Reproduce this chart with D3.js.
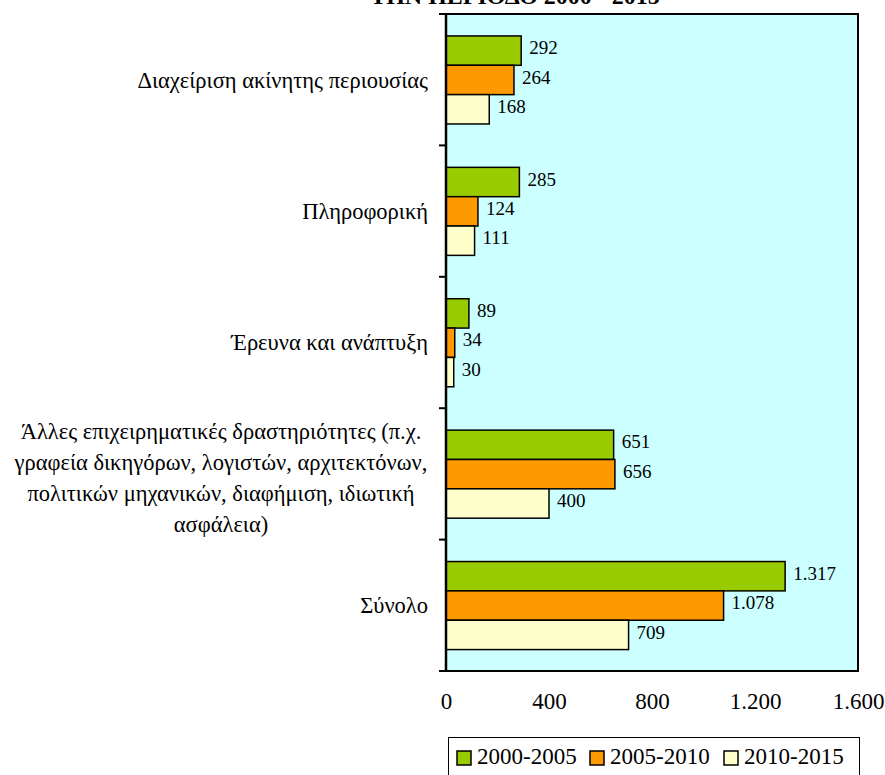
<!DOCTYPE html>
<html><head><meta charset="utf-8">
<script src="https://cdn.jsdelivr.net/npm/d3@7"></script>
<style>body{margin:0;background:#fff}svg{display:block}</style>
</head><body>
<script>
const categories = [
  "Διαχείριση ακίνητης περιουσίας",
  "Πληροφορική",
  "Έρευνα και ανάπτυξη",
  "Άλλες επιχειρηματικές δραστηριότητες (π.χ.\nγραφεία δικηγόρων, λογιστών, αρχιτεκτόνων,\nπολιτικών μηχανικών, διαφήμιση, ιδιωτική\nασφάλεια)",
  "Σύνολο"
];
const seriesNames = ["2000-2005", "2005-2010", "2010-2015"];
const values2000_2005 = [292, 285, 89, 651, 1317];
const values2005_2010 = [264, 124, 34, 656, 1078];
const values2010_2015 = [168, 111, 30, 400, 709];
const seriesValues = [values2000_2005, values2005_2010, values2010_2015];
const xTicks = [0, 400, 800, 1200, 1600];
const colors = ["#99CC00", "#FF9900", "#FFFFCC"];
const titleText = "ΤΗΝ ΠΕΡΙΟΔΟ 2000 - 2015";

const W = 885, H = 775;
const L = 446, R = 858, T = 14, B = 671;
const loc = d3.formatLocale({decimal: ",", thousands: ".", grouping: [3], currency: ["", "€"]});
const fmt = loc.format(",d");
const FONT = "Liberation Serif";

const svg = d3.select("body").append("svg").attr("width", W).attr("height", H);
function txt(sel) { return sel.append("text").style("font-family", FONT).attr("fill", "#000"); }

txt(svg).attr("x", 515).attr("y", 4).attr("text-anchor", "middle")
  .attr("font-weight", "bold").attr("font-size", 24).text(titleText);

const x = d3.scaleLinear().domain([0, 1600]).range([L, R]);
const y = d3.scaleBand().domain(categories).range([T, B]).padding(0);
const inner = d3.scaleBand().domain(d3.range(3))
  .range([y.bandwidth() * 0.167, y.bandwidth() * 0.837]).padding(0);

svg.append("rect").attr("x", L).attr("y", T).attr("width", R - L).attr("height", B - T)
  .attr("fill", "#CCFFFF").attr("stroke", "#000").attr("stroke-width", 2);

categories.forEach((c, ci) => {
  const g = svg.append("g").attr("transform", `translate(0,${y(c)})`);
  seriesValues.forEach((vals, si) => {
    const v = vals[ci];
    g.append("rect").attr("x", x(0)).attr("y", inner(si))
      .attr("width", x(v) - x(0)).attr("height", inner.bandwidth())
      .attr("fill", colors[si]).attr("stroke", "#000").attr("stroke-width", 1.5);
    txt(g).attr("x", x(v) + 8).attr("y", inner(si) + inner.bandwidth() / 2 - 3)
      .attr("dy", "0.35em").attr("font-size", 19).text(fmt(v));
  });
});

// left axis ticks at category boundaries
const bounds = categories.map(c => y(c)).concat([B]);
svg.selectAll(".ytick").data(bounds).enter().append("line")
  .attr("x1", L - 7).attr("x2", L).attr("y1", d => d).attr("y2", d => d)
  .attr("stroke", "#000").attr("stroke-width", 2);
svg.append("line").attr("x1", L).attr("x2", L).attr("y1", T).attr("y2", B)
  .attr("stroke", "#000").attr("stroke-width", 2.5);

// category labels
categories.forEach(c => {
  const lines = c.split("\n");
  const cy = y(c) + y.bandwidth() / 2;
  const lh = 31;
  const t = txt(svg).attr("font-size", 22.5);
  if (lines.length === 1) {
    t.attr("x", 428).attr("y", cy).attr("dy", "0.35em").attr("text-anchor", "end").text(c);
  } else {
    const y0 = cy + 4 - (lines.length - 1) * lh / 2;
    lines.forEach((ln, i) => {
      t.append("tspan").attr("x", 221).attr("y", y0 + i * lh).attr("dy", "0.35em")
        .attr("text-anchor", "middle").text(ln);
    });
  }
});

// x axis labels
const xAxis = d3.axisBottom(x).tickValues(xTicks).tickFormat(fmt).tickSize(0).tickPadding(0);
const ax = svg.append("g").attr("transform", `translate(0,${B})`).call(xAxis);
ax.select(".domain").remove();
ax.selectAll("text").attr("font-size", 23).style("font-family", FONT).attr("fill", "#000")
  .attr("y", 38).attr("dy", 0);

// legend
const lg = svg.append("g");
lg.append("rect").attr("x", 448.5).attr("y", 737.5).attr("width", 411).attr("height", 50)
  .attr("fill", "#fff").attr("stroke", "#000").attr("stroke-width", 1);
const legX = [457, 590, 724];
seriesNames.forEach((n, i) => {
  lg.append("rect").attr("x", legX[i]).attr("y", 751).attr("width", 14).attr("height", 14)
    .attr("fill", colors[i]).attr("stroke", "#000").attr("stroke-width", 1.5);
  txt(lg).attr("x", legX[i] + 20).attr("y", 764).attr("font-size", 23).text(n);
});
</script>
</body></html>
